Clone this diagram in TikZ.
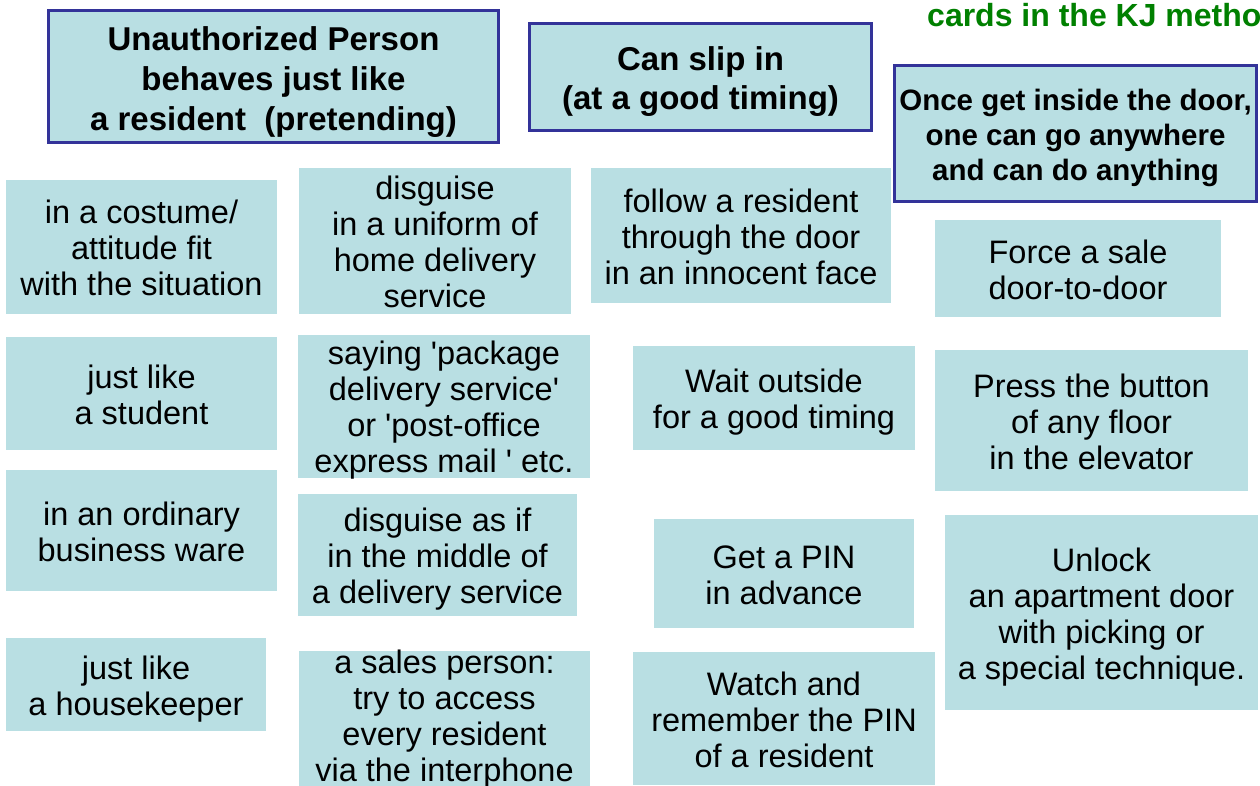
\documentclass[tikz,border=0pt]{standalone}
\usepackage{fontspec}
\setmainfont{Liberation Sans}
\definecolor{cardblue}{RGB}{185,223,227}
\definecolor{hdrblue}{RGB}{51,51,153}
\definecolor{kjgreen}{RGB}{0,128,0}
\newcommand\cardtop[1][36pt]{\rule{0pt}{#1}}
\tikzset{
  card/.style={fill=cardblue, inner sep=0pt, align=center, font=\fontsize{32.5}{36}\selectfont,
    execute at end node={\strut}},
  cardbox/.style={fill=cardblue, inner sep=0pt},
  cardtext/.style={inner sep=0pt, align=center, font=\fontsize{32.5}{36}\selectfont},
  header/.style={fill=cardblue, draw=hdrblue, line width=3pt, inner sep=0pt, align=center,
    execute at end node={\strut}},
}
\begin{document}
\begin{tikzpicture}[x=1pt,y=-1pt]
\useasboundingbox (0,0) rectangle (1260,785);
\begin{scope}
\clip (0,0) rectangle (1260,785);
% title
\node[anchor=base west, inner sep=0pt, text=kjgreen, font=\fontsize{32}{36}\selectfont\bfseries] (title) at (927,26.5) {cards in the KJ method};
% headers
\node[header, minimum width=450, minimum height=131, font=\fontsize{33}{40}\selectfont\bfseries] (h1) at (273.5,76) {\cardtop[40pt]Unauthorized Person\\behaves just like\\a resident~ (pretending)};
\node[header, minimum width=342, minimum height=107, font=\fontsize{33}{39}\selectfont\bfseries] (h2) at (700.5,77) {\cardtop[38pt]Can slip in\\(at a good timing)};
\node[header, minimum width=362, minimum height=136, font=\fontsize{29.5}{35}\selectfont\bfseries] (h3) at (1075.5,133.5) {\cardtop[33.5pt]Once get inside the door,\\one can go anywhere\\and can do anything};
% column 1
\node[card, minimum width=271, minimum height=134] (c1) at (141.5,247) {\cardtop in a costume/\\attitude fit\\with the situation};
\node[card, minimum width=271, minimum height=113] (c5) at (141.5,393.5) {\cardtop just like\\a student};
\node[card, minimum width=271, minimum height=121] (c9) at (141.5,530.5) {\cardtop in an ordinary\\business ware};
\node[card, minimum width=260, minimum height=93] (c13) at (136,684.5) {\cardtop just like\\a housekeeper};
% column 2
\node[cardbox, minimum width=272, minimum height=146] (c2) at (435,241) {};
\node[cardtext] (c2t) at ([yshift=-1pt]c2.center) {disguise\\in a uniform of\\home delivery\\service};
\node[cardbox, minimum width=292, minimum height=143] (c6) at (444,406.5) {};
\node[cardtext] (c6t) at ([yshift=-3.5pt]c6.center) {saying \textquotesingle package\\delivery service\textquotesingle\\or \textquotesingle post-office\\express mail \textquotesingle\ etc.};
\node[card, minimum width=279, minimum height=122] (c10) at (437.5,555) {\cardtop disguise as if\\in the middle of\\a delivery service};
\node[cardbox, minimum width=291, minimum height=135] (c14) at (444.5,718.5) {};
\node[cardtext] (c14t) at ([yshift=-0.5pt]c14.center) {a sales person:\\try to access\\every resident\\via the interphone};
% column 3
\node[card, minimum width=300, minimum height=135] (c3) at (741,235.5) {\cardtop follow a resident\\through the door\\in an innocent face};
\node[card, minimum width=282, minimum height=104] (c7) at (774,398) {\cardtop Wait outside\\for a good timing};
\node[card, minimum width=260, minimum height=109] (c11) at (784,573.5) {\cardtop Get a PIN\\in advance};
\node[card, minimum width=302, minimum height=133] (c15) at (784,718.5) {\cardtop Watch and\\remember the PIN\\of a resident};
% column 4
\node[card, minimum width=286, minimum height=97] (c4) at (1078,268.5) {\cardtop Force a sale\\door-to-door};
\node[card, minimum width=313, minimum height=141] (c8) at (1091.5,420.5) {\cardtop Press the button\\of any floor\\in the elevator};
\node[card, minimum width=313, minimum height=195] (c12) at (1101.5,612.5) {\cardtop Unlock\\an apartment door\\with picking or\\a special technique.};
\end{scope}
\end{tikzpicture}
\end{document}
